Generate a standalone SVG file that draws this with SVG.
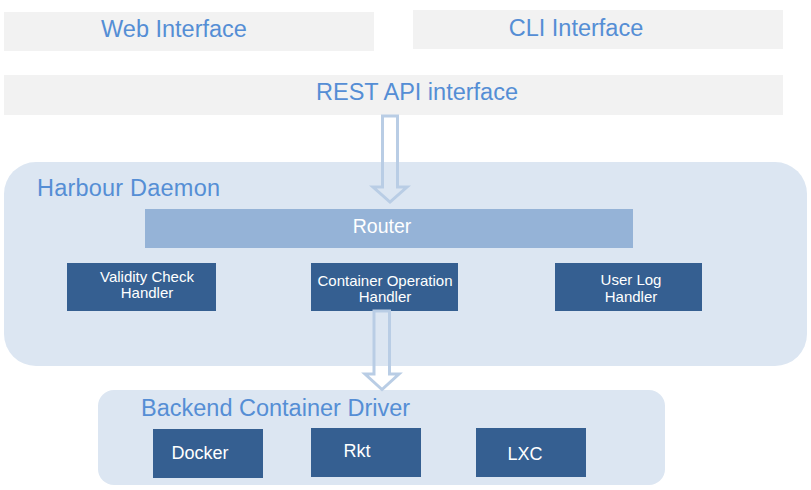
<svg xmlns="http://www.w3.org/2000/svg" width="811" height="490" viewBox="0 0 811 490">
<style>
.bg{fill:#ffffff}
.grey{fill:#f2f2f2}
.group{fill:#dce6f2}
.router{fill:#95b3d7}
.dark{fill:#355f91}
.t{font-family:"Liberation Sans",Arial,sans-serif}
.blue{fill:#558ed5;font-size:23.5px}
.w{fill:#ffffff}
.h{font-size:15px}
.arrow{fill:none;stroke:#b9cde5;stroke-width:3;stroke-linejoin:miter}
</style>
<rect class="bg" x="0" y="0" width="811" height="490"/>
<g id="web-interface">
<rect class="grey" x="4" y="12" width="370" height="39"/>
<text class="t blue" x="174" y="37" text-anchor="middle">Web Interface</text>
</g>
<g id="cli-interface">
<rect class="grey" x="413" y="10" width="370" height="39"/>
<text class="t blue" x="576" y="36" text-anchor="middle">CLI Interface</text>
</g>
<g id="rest-api">
<rect class="grey" x="4" y="75" width="779" height="40"/>
<text class="t blue" x="417" y="100" text-anchor="middle">REST API interface</text>
</g>
<g id="harbour-daemon">
<rect class="group" x="4" y="162" width="803" height="204" rx="32" ry="32"/>
<text class="t blue" x="37" y="196" font-size="24" textLength="183">Harbour Daemon</text>
</g>
<g id="router">
<rect class="router" x="145" y="209" width="488" height="39"/>
<text class="t w" x="382" y="233" font-size="19.5" text-anchor="middle">Router</text>
</g>
<g id="validity-check-handler">
<rect class="dark" x="67" y="263" width="149" height="48"/>
<text class="t w h" x="147" y="282" text-anchor="middle">Validity Check</text>
<text class="t w h" x="147" y="298" text-anchor="middle">Handler</text>
</g>
<g id="container-operation-handler">
<rect class="dark" x="311" y="263" width="147" height="48"/>
<text class="t w h" x="385" y="286" text-anchor="middle">Container Operation</text>
<text class="t w h" x="385" y="302" text-anchor="middle">Handler</text>
</g>
<g id="user-log-handler">
<rect class="dark" x="555" y="263" width="147" height="48"/>
<text class="t w h" x="631" y="285" text-anchor="middle">User Log</text>
<text class="t w h" x="631" y="302" text-anchor="middle">Handler</text>
</g>
<g id="backend-container-driver">
<rect class="group" x="98" y="390" width="567" height="95" rx="16" ry="16"/>
<text class="t blue" x="141" y="416">Backend Container Driver</text>
</g>
<g id="docker">
<rect class="dark" x="153" y="429" width="110" height="49"/>
<text class="t w" x="200" y="459" font-size="18" text-anchor="middle">Docker</text>
</g>
<g id="rkt">
<rect class="dark" x="311" y="428" width="110" height="49"/>
<text class="t w" x="357" y="457" font-size="18" text-anchor="middle">Rkt</text>
</g>
<g id="lxc">
<rect class="dark" x="476" y="428" width="110" height="49"/>
<text class="t w" x="525" y="460" font-size="18" text-anchor="middle">LXC</text>
</g>
<g id="connectors">
<path class="arrow" d="M382.5,116 L397.5,116 L397.5,187 L407,187 L390,202 L373,187 L382.5,187 Z"/>
<path class="arrow" d="M374,311 L389.5,311 L389.5,374 L399,374 L382,389.5 L365,374 L374,374 Z"/>
</g>
</svg>
